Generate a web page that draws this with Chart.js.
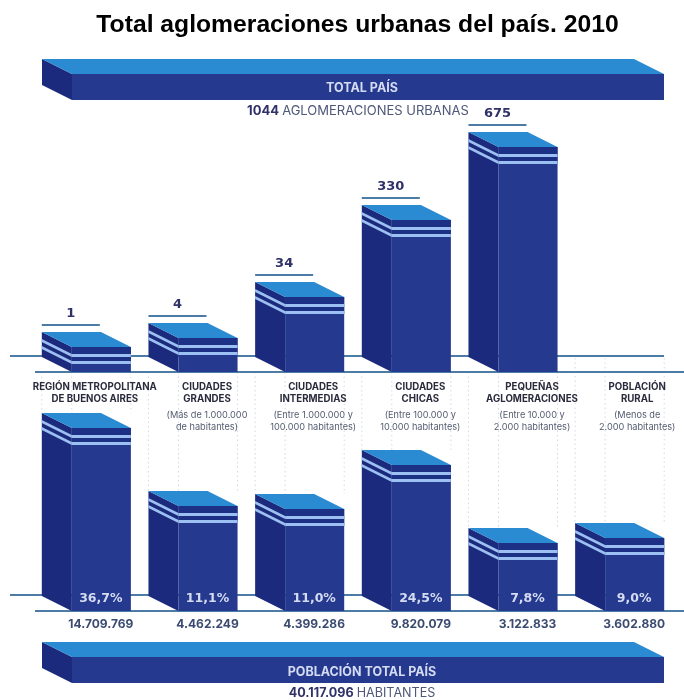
<!DOCTYPE html>
<html>
<head>
<meta charset="utf-8">
<style>
  html, body { margin: 0; padding: 0; background: #fff; }
  canvas { display: block; }
</style>
<script src="https://cdn.jsdelivr.net/npm/chart.js@4"></script>
</head>
<body>
<canvas id="chart" width="684" height="700"></canvas>
<script>
// Aglomeraciones y población por tipo de localidad
const categories = [
    ['REGIÓN METROPOLITANA', 'DE BUENOS AIRES'],
    ['CIUDADES', 'GRANDES'],
    ['CIUDADES', 'INTERMEDIAS'],
    ['CIUDADES', 'CHICAS'],
    ['PEQUEÑAS', 'AGLOMERACIONES'],
    ['POBLACIÓN', 'RURAL']
];
const categoryNotes = [
    [],
    ['(Más de 1.000.000', 'de habitantes)'],
    ['(Entre 1.000.000 y', '100.000 habitantes)'],
    ['(Entre 100.000 y', '10.000 habitantes)'],
    ['(Entre 10.000 y', '2.000 habitantes)'],
    ['(Menos de', '2.000 habitantes)']
];
const aglomeraciones = [1, 4, 34, 330, 675, null];
const porcentajes = [36.7, 11.1, 11.0, 24.5, 7.8, 9.0];
const habitantes = [14709769, 4462249, 4399286, 9820079, 3122833, 3602880];
const totalAglomeraciones = 1044;
const totalHabitantes = 40117096;

const COLORS = {
    top: '#2a8ad2',
    front: '#25398f',
    side: '#1b2a7c',
    band: '#1c3186',
    stripe: '#9cc0f2',
    line: '#4c7ba6',
    dots: '#d3dae2',
    navy: '#2f3168',
    slate: '#4e5878',
    pale: '#d5dcf2'
};
const DEPTH_X = 30;
const DEPTH_Y = 15;

const fmtMiles = n => String(n).replace(/\B(?=(\d{3})+(?!\d))/g, '.');
const fmtPct = n => n.toFixed(1).replace('.', ',') + '%';

function polygon(ctx, color, pts) {
    ctx.fillStyle = color;
    ctx.beginPath();
    pts.forEach((p, i) => i ? ctx.lineTo(p[0], p[1]) : ctx.moveTo(p[0], p[1]));
    ctx.closePath();
    ctx.fill();
}

// Prisma: cara lateral a la izquierda, tapa arriba y frente
function drawPrism(ctx, left, right, frontTop, bottom, striped) {
    const mid = left + DEPTH_X;
    polygon(ctx, COLORS.side, [[left, frontTop - DEPTH_Y], [mid, frontTop], [mid, bottom], [left, bottom - DEPTH_Y]]);
    ctx.fillStyle = COLORS.front;
    ctx.fillRect(mid, frontTop, right - mid, bottom - frontTop);
    polygon(ctx, COLORS.top, [[left, frontTop - DEPTH_Y], [right - DEPTH_X, frontTop - DEPTH_Y], [right, frontTop], [mid, frontTop]]);
    if (!striped) return;

    ctx.fillStyle = COLORS.band;
    ctx.fillRect(mid, frontTop, right - mid, 17);
    [7, 14].forEach(offset => {
        ctx.fillStyle = COLORS.stripe;
        ctx.fillRect(mid, frontTop + offset, right - mid, 3);
        polygon(ctx, COLORS.stripe, [
            [left, frontTop - DEPTH_Y + offset], [mid, frontTop + offset],
            [mid, frontTop + offset + 3], [left, frontTop - DEPTH_Y + offset + 3]
        ]);
    });
}

// Barra dibujada como prisma con la geometría que calcula el controlador
class PrismBar extends Chart.BarElement {
    draw(ctx) {
        if (this.skip) return;
        const { x, y, base, width } = this.getProps(['x', 'y', 'base', 'width'], true);
        drawPrism(ctx, x - width / 2, x + width / 2, y, base, true);
    }
}
PrismBar.id = 'prismBar';
PrismBar.defaults = Chart.BarElement.defaults;

class PrismController extends Chart.BarController {}
PrismController.id = 'prism';
PrismController.defaults = Object.assign({}, Chart.BarController.defaults, { dataElementType: 'prismBar' });
PrismController.overrides = Chart.BarController.overrides;

// Eje de escala irregular: el alto de las barras no es proporcional al valor,
// cada tramo entre dos valores tiene su propia pendiente
class StopsScale extends Chart.LinearScale {
    getPixelForValue(value) {
        const { basePixel, stops } = this.options;
        let i = 1;
        while (i < stops.length - 1 && value > stops[i][0]) i++;
        const [v0, h0] = stops[i - 1];
        const [v1, h1] = stops[i];
        return basePixel - (h0 + (value - v0) / (v1 - v0) * (h1 - h0));
    }
}
StopsScale.id = 'stops';
StopsScale.defaults = Chart.LinearScale.defaults;

Chart.register(PrismBar, PrismController, StopsScale);

function text(ctx, str, x, y, font, color) {
    ctx.font = font;
    ctx.fillStyle = color;
    ctx.textAlign = 'center';
    ctx.textBaseline = 'middle';
    ctx.fillText(str, x, y);
}

// Texto con el número en negrita y el resto regular, centrado en x
function mixedText(ctx, boldPart, rest, x, y, size) {
    const boldFont = 'bold ' + size + 'px Inter';
    const plainFont = size + 'px Inter';
    ctx.font = boldFont;
    const w1 = ctx.measureText(boldPart).width;
    ctx.font = plainFont;
    const w2 = ctx.measureText(rest).width;
    const start = x - (w1 + w2) / 2;
    text(ctx, boldPart, start + w1 / 2, y, boldFont, COLORS.navy);
    text(ctx, rest, start + w1 + w2 / 2, y, plainFont, COLORS.slate);
}

function hLine(ctx, x1, x2, y, color, width) {
    ctx.strokeStyle = color;
    ctx.lineWidth = width;
    ctx.beginPath();
    ctx.moveTo(x1, y);
    ctx.lineTo(x2, y);
    ctx.stroke();
}

const scenery = {
    id: 'scenery',
    beforeDatasetsDraw(chart) {
        const ctx = chart.ctx;
        const boxes = chart.getDatasetMeta(0).data;
        const lower = chart.getDatasetMeta(1).data;

        // guías punteadas entre los dos grupos de barras
        ctx.save();
        ctx.setLineDash([1.5, 3]);
        ctx.strokeStyle = COLORS.dots;
        ctx.lineWidth = 1;
        lower.forEach((bar, i) => {
            const left = bar.x - bar.width / 2;
            const top = i === 5 ? 358 : boxes[i].base;
            [left, left + DEPTH_X, left + bar.width].forEach(x => {
                ctx.beginPath();
                ctx.moveTo(x, top);
                ctx.lineTo(x, bar.y - DEPTH_Y);
                ctx.stroke();
            });
        });
        ctx.restore();

        hLine(ctx, 10, 664, 356, COLORS.line, 2);
        hLine(ctx, 35, 684, 372, COLORS.line, 2);
        hLine(ctx, 10, 664, 595, COLORS.line, 2);
        hLine(ctx, 35, 684, 611, COLORS.line, 2);

        drawPrism(ctx, 42, 664, 74, 100, false);
        drawPrism(ctx, 42, 664, 657, 683, false);
    },
    afterDatasetsDraw(chart) {
        const ctx = chart.ctx;
        const upper = chart.getDatasetMeta(0).data;
        const lower = chart.getDatasetMeta(1).data;

        text(ctx, 'Total aglomeraciones urbanas del país. 2010', 357.5, 25, 'bold 24.7px "Liberation Sans"', '#000');
        text(ctx, 'TOTAL PAÍS', 362, 88, 'bold 12.5px Inter', COLORS.pale);
        mixedText(ctx, String(totalAglomeraciones) + ' ', 'AGLOMERACIONES URBANAS', 358, 111, 13);
        text(ctx, 'POBLACIÓN TOTAL PAÍS', 362, 672, 'bold 12.5px Inter', COLORS.pale);
        mixedText(ctx, fmtMiles(totalHabitantes) + ' ', 'HABITANTES', 362, 693, 12.6);

        aglomeraciones.forEach((value, i) => {
            if (value === null) return;
            const bar = upper[i];
            const left = bar.x - bar.width / 2;
            const back = bar.y - DEPTH_Y;
            hLine(ctx, left, left + 58, back - 7, COLORS.line, 2);
            text(ctx, String(value), left + 29, back - 18, 'bold 13px "DejaVu Sans"', COLORS.navy);
        });

        lower.forEach((bar, i) => {
            const cx = bar.x + 14.5;
            text(ctx, fmtPct(porcentajes[i]), cx, 599, 'bold 12.5px "DejaVu Sans"', COLORS.pale);
            text(ctx, fmtMiles(habitantes[i]), cx, 624, 'bold 12px Inter', '#3a4a70');

            const labelX = bar.x + [8.5, 14, 13.5, 14, 19, 17.5][i];
            categories[i].forEach((line, j) => {
                text(ctx, line, labelX, 387 + j * 12, 'bold 9.7px Inter', '#2a2b3c');
            });
            categoryNotes[i].forEach((line, j) => {
                text(ctx, line, labelX, 415 + j * 12, '9.2px Inter', '#555c70');
            });
        });
    }
};

new Chart(document.getElementById('chart'), {
    data: {
        labels: categories.map(c => c.join(' ')),
        datasets: [
            { type: 'prism', label: 'Aglomeraciones', data: aglomeraciones, yAxisID: 'yUpper', grouped: false },
            { type: 'prism', label: 'Población (%)', data: porcentajes, yAxisID: 'yLower', grouped: false }
        ]
    },
    options: {
        responsive: false,
        animation: false,
        events: [],
        layout: { padding: { left: 33, right: 11, top: 0, bottom: 0 } },
        barPercentage: 0.835,
        categoryPercentage: 1,
        plugins: { legend: { display: false }, tooltip: { enabled: false } },
        scales: {
            x: { display: false },
            yUpper: {
                type: 'stops', display: false, min: 0, max: 675, basePixel: 372,
                stops: [[0, 0], [1, 25], [4, 34], [34, 75], [330, 152], [675, 225]]
            },
            yLower: {
                type: 'stops', display: false, min: 0, max: 36.7, basePixel: 611,
                stops: [[0, 0], [7.8, 68], [9, 73], [11, 102], [11.1, 105], [24.5, 146], [36.7, 183]]
            }
        }
    },
    plugins: [scenery]
});
</script>
</body>
</html>
